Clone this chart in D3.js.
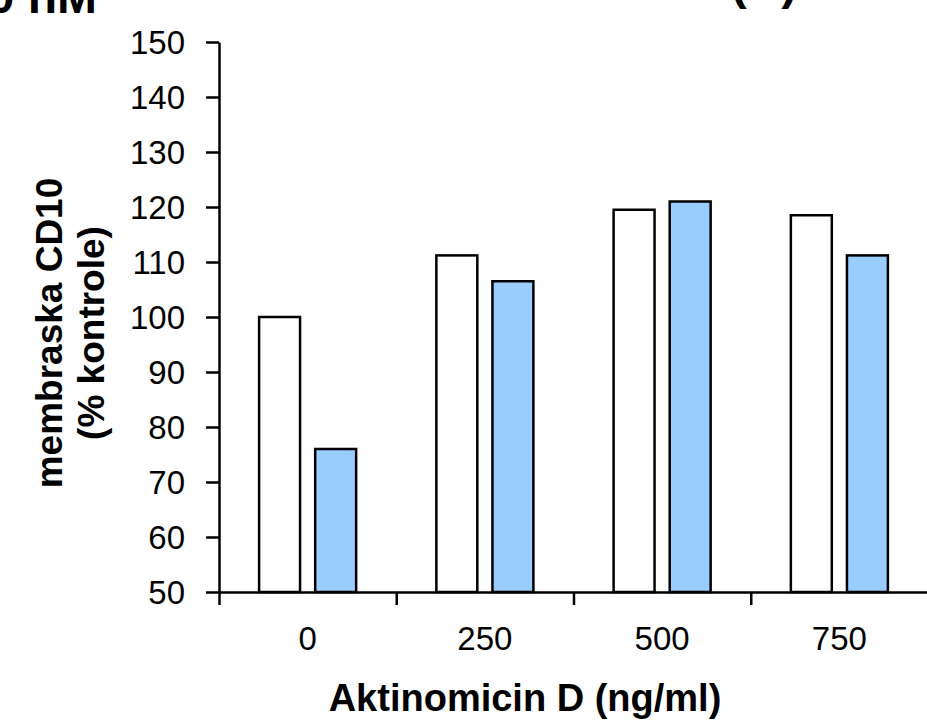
<!DOCTYPE html>
<html lang="hr">
<head>
  <meta charset="utf-8">
  <title>membraska CD10</title>
  <script src="https://cdn.jsdelivr.net/npm/d3@7"></script>
  <style>
    body { margin: 0; background: #fff; }
    svg text { font-family: Arial, "Liberation Sans", sans-serif; fill: #000; }
    .axis path, .axis line { stroke: #000; stroke-width: 2.5px; }
    .axis text { font-size: 33px; }
    .lbl { font-weight: bold; font-size: 37px; }
    .ttl { font-weight: bold; font-size: 48px; }
  </style>
</head>
<body>
<script>
  // podaci
  const categories = ["0", "250", "500", "750"];
  const seriesNames = ["kontrola", "tretman"];
  const whiteValues = [100, 111.2, 119.5, 118.5];
  const blueValues = [76, 106.5, 121, 111.2];
  const yTicks = [50, 60, 70, 80, 90, 100, 110, 120, 130, 140, 150];
  const colors = ["#ffffff", "#99ccff"];

  const w = 927, h = 728;
  const mLeft = 219, mRight = 928, mTop = 42, mBottom = 592;

  const svg = d3.select("body").append("svg")
    .attr("width", w)
    .attr("height", h);

  const y = d3.scaleLinear().domain([50, 150]).range([mBottom, mTop]);

  // kategorije (bez razmaka) i stupci unutar kategorije
  const x0 = d3.scaleBand().domain(categories).range([mLeft, mRight]);
  const x1 = d3.scaleBand().domain(seriesNames)
    .range([0, x0.bandwidth()])
    .paddingInner(0.27)
    .paddingOuter(0.715);

  const rows = categories.map((c, i) => ({ cat: c, vals: [whiteValues[i], blueValues[i]] }));

  svg.append("g").selectAll("g")
    .data(rows)
    .join("g")
    .attr("transform", d => "translate(" + x0(d.cat) + ",0)")
    .selectAll("rect")
    .data(d => d.vals.map((v, j) => ({ s: seriesNames[j], v: v, c: colors[j] })))
    .join("rect")
    .attr("x", d => x1(d.s))
    .attr("y", d => y(d.v))
    .attr("width", x1.bandwidth())
    .attr("height", d => mBottom - y(d.v))
    .attr("fill", d => d.c)
    .attr("stroke", "#000")
    .attr("stroke-width", 2.5);

  // y os
  svg.append("g")
    .attr("class", "axis")
    .attr("transform", "translate(" + mLeft + ",0)")
    .call(d3.axisLeft(y).tickValues(yTicks).tickSize(13).tickPadding(21).tickSizeOuter(0))
    .call(g => g.selectAll("text").attr("dy", "0.36em"));

  // x os: crtice na granicama kategorija
  const xb = d3.scaleLinear().domain([0, categories.length]).range([mLeft, mRight]);
  svg.append("g")
    .attr("class", "axis")
    .attr("transform", "translate(0," + mBottom + ")")
    .call(d3.axisBottom(xb).ticks(categories.length).tickFormat("").tickSize(13).tickSizeOuter(0));

  // oznake kategorija
  svg.append("g")
    .attr("class", "axis")
    .attr("transform", "translate(0," + mBottom + ")")
    .call(d3.axisBottom(x0).tickSize(0).tickPadding(35))
    .call(g => g.select(".domain").remove());

  // naslovi osi
  svg.append("text")
    .attr("class", "lbl")
    .attr("x", 525)
    .attr("y", 711)
    .attr("text-anchor", "middle")
    .style("font-size", "38px")
    .text("Aktinomicin D (ng/ml)");

  const yl = svg.append("text")
    .attr("class", "lbl")
    .attr("transform", "translate(62,333) rotate(-90)")
    .attr("text-anchor", "middle");
  yl.append("tspan").attr("x", 0).attr("y", 0).text("membraska CD10");
  yl.append("tspan").attr("x", 0).attr("y", 42).text("(% kontrole)");

  // naslovi na vrhu (u originalu odrezani rubom slike)
  svg.append("text")
    .attr("class", "ttl")
    .attr("x", 97)
    .attr("y", 13)
    .attr("text-anchor", "end")
    .text("50 nM");

  svg.append("text")
    .attr("class", "ttl")
    .attr("x", 764)
    .attr("y", -1)
    .attr("text-anchor", "middle")
    .text("(B)");
</script>
</body>
</html>
